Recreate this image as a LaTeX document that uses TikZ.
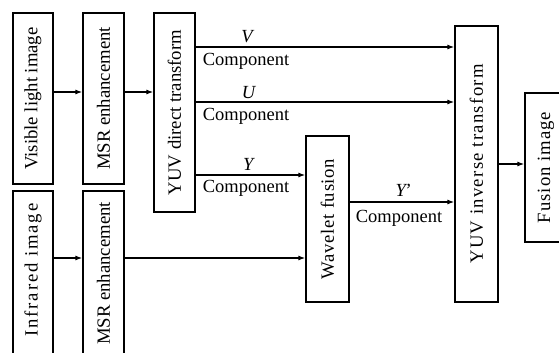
\documentclass[tikz,border=0pt]{standalone}
\usepackage{fontspec}
\setmainfont{Liberation Serif}
\usetikzlibrary{arrows.meta}
\newcommand{\vtxt}[2][0]{\rotatebox{90}{\addfontfeature{LetterSpace=#1}#2}}
\begin{document}
\begin{tikzpicture}[x=1pt,y=-1pt,
  blk/.style={draw, line width=1.3pt, inner sep=0pt, font=\fontsize{18.7}{22}\selectfont},
  arr/.style={line width=1.2pt, -{Latex[length=7pt,width=5pt]}},
  lbl/.style={inner sep=0pt, anchor=base, font=\fontsize{18.5}{22}\selectfont}]
\clip (0,0) rectangle (559,353);
\fill[white] (0,0) rectangle (559,353);
% boxes
\node[blk, minimum width=40, minimum height=171] (vis) at (33,98.5) {\vtxt{Visible light image}};
\node[blk, minimum width=41, minimum height=171] (msrA) at (103.5,98.5) {\vtxt{MSR enhancement}};
\node[blk, minimum width=41, minimum height=199] (yuvd) at (174.5,112.5) {\vtxt{YUV direct transform}};
\node[blk, minimum width=40, minimum height=171] (ir) at (33,276.5) {\vtxt[10]{\hspace*{13pt}Infrared image}};
\node[blk, minimum width=41, minimum height=171] (msrB) at (103.5,276.5) {\vtxt{\hspace*{6pt}MSR enhancement}};
\node[blk, minimum width=43, minimum height=166] (wav) at (327.5,219) {\vtxt[3.7]{Wavelet fusion}};
\node[blk, minimum width=43, minimum height=276] (yuvi) at (476.5,164) {\vtxt[6.8]{YUV inverse transform}};
\node[blk, minimum width=42, minimum height=149] (fus) at (546,167.5) {\vtxt[5.3]{Fusion image}};
% levels
\coordinate (yA) at (0,92);
\coordinate (yB) at (0,258);
\coordinate (yV) at (0,47);
\coordinate (yU) at (0,102);
\coordinate (yY) at (0,175);
\coordinate (yYp) at (0,202);
\coordinate (yF) at (0,164);
% connectors
\draw[arr] (vis.east |- yA) -- (msrA.west |- yA);
\draw[arr] (msrA.east |- yA) -- (yuvd.west |- yA);
\draw[arr] (ir.east |- yB) -- (msrB.west |- yB);
\draw[arr] (msrB.east |- yB) -- (wav.west |- yB);
\draw[arr] (yuvd.east |- yV) -- (yuvi.west |- yV);
\draw[arr] (yuvd.east |- yU) -- (yuvi.west |- yU);
\draw[arr] (yuvd.east |- yY) -- (wav.west |- yY);
\draw[arr] (wav.east |- yYp) -- (yuvi.west |- yYp);
\draw[arr] (yuvi.east |- yF) -- (fus.west |- yF);
% labels
\node[lbl] (tv) at (248,43) {\textit{V}};
\node[lbl] (cv) at (246,65) {Component};
\node[lbl] (tu) at (249,98) {\textit{U}};
\node[lbl] (cu) at (246,120) {Component};
\node[lbl] (ty) at (249,170) {\textit{Y}};
\node[lbl] (cy) at (246,192) {Component};
\node[lbl] (typ) at (403,196) {\textit{Y\kern-1.5pt'}};
\node[lbl] (cyp) at (399,222) {Component};
\end{tikzpicture}
\end{document}
